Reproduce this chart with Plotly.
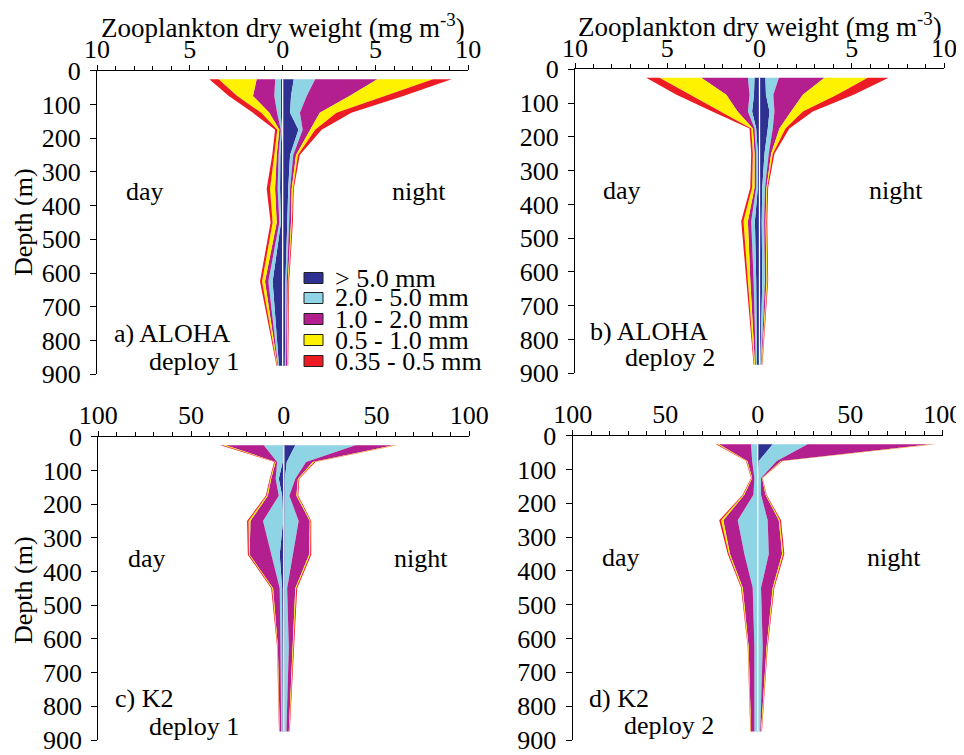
import numpy as np
import plotly.graph_objects as go

# ---------------- data ----------------
depth = [25, 75, 125, 175, 250, 350, 450, 625, 875]          # m (net mid-depths)
size_classes = ["> 5.0 mm", "2.0 - 5.0 mm", "1.0 - 2.0 mm", "0.5 - 1.0 mm", "0.35 - 0.5 mm"]
class_colors = ["#2E3192", "#8ED4E4", "#B31F8E", "#FFF200", "#ED1C24"]
depth_ticks = [0, 100, 200, 300, 400, 500, 600, 700, 800, 900]

# dry weight (mg m-3) per size class (rows, same order as size_classes) and depth (cols)
aloha1_day = [
    [0.10, 0.10, 0.10, 0.05, 0.12, 0.14, 0.09, 0.54, 0.20],
    [0.30, 0.35, 0.20, 0.05, 0.10, 0.13, 0.09, 0.23, 0.05],
    [1.00, 1.15, 0.42, 0.08, 0.10, 0.14, 0.14, 0.18, 0.03],
    [2.05, 0.85, 0.43, 0.11, 0.13, 0.27, 0.22, 0.16, 0.02],
    [0.50, 0.45, 0.45, 0.12, 0.11, 0.18, 0.11, 0.11, 0.03],
]
aloha1_night = [
    [0.60, 0.45, 0.40, 0.85, 0.40, 0.30, 0.25, 0.15, 0.12],
    [1.15, 0.85, 0.53, 0.23, 0.17, 0.10, 0.10, 0.07, 0.06],
    [3.35, 2.30, 1.07, 0.39, 0.15, 0.09, 0.10, 0.06, 0.06],
    [3.00, 1.90, 0.90, 0.28, 0.10, 0.07, 0.05, 0.03, 0.03],
    [1.00, 1.00, 0.80, 0.35, 0.10, 0.04, 0.05, 0.04, 0.03],
]
aloha2_day = [
    [0.27, 0.30, 0.40, 0.18, 0.09, 0.09, 0.25, 0.18, 0.14],
    [0.36, 0.24, 0.23, 0.09, 0.09, 0.09, 0.20, 0.14, 0.06],
    [2.53, 1.26, 0.56, 0.09, 0.09, 0.09, 0.18, 0.18, 0.05],
    [2.26, 1.94, 0.94, 0.09, 0.09, 0.13, 0.24, 0.13, 0.04],
    [0.72, 0.76, 0.43, 0.09, 0.09, 0.10, 0.12, 0.09, 0.03],
]
aloha2_night = [
    [0.32, 0.35, 0.54, 0.45, 0.27, 0.15, 0.12, 0.15, 0.05],
    [0.73, 0.40, 0.27, 0.27, 0.23, 0.15, 0.13, 0.15, 0.04],
    [2.47, 1.60, 0.90, 0.36, 0.13, 0.08, 0.08, 0.08, 0.03],
    [2.35, 1.85, 0.64, 0.33, 0.09, 0.04, 0.04, 0.05, 0.02],
    [1.13, 0.90, 0.54, 0.21, 0.09, 0.05, 0.05, 0.04, 0.02],
]
k2_1_day = [
    [0.6, 0.6, 2.7, 0.9, 0.4, 2.2, 0.9, 0.9, 0.7],
    [10.2, 3.0, 1.7, 1.8, 10.8, 4.6, 1.3, 0.9, 0.7],
    [20.6, 0.8, 2.4, 5.9, 6.8, 11.6, 3.6, 1.4, 0.8],
    [1.4, 0.4, 0.4, 0.6, 1.0, 0.4, 0.5, 0.2, 0.2],
    [1.4, 0.4, 0.4, 0.5, 0.8, 0.6, 0.5, 0.2, 0.2],
]
k2_1_night = [
    [6.2, 1.6, 0.6, 0.6, 0.4, 0.4, 0.2, 0.6, 0.4],
    [32.4, 10.4, 5.6, 2.4, 7.6, 4.6, 1.6, 2.1, 1.0],
    [20.6, 3.6, 1.4, 3.8, 6.0, 8.6, 4.4, 2.1, 1.3],
    [1.2, 0.8, 0.4, 0.6, 0.4, 0.6, 0.5, 0.3, 0.25],
    [0.6, 0.6, 0.4, 0.4, 0.4, 0.6, 0.5, 0.3, 0.25],
]
k2_2_day = [
    [0.2, 0.2, 0.2, 0.4, 0.6, 0.6, 0.4, 0.4, 0.4],
    [3.4, 2.8, 1.6, 1.9, 10.2, 6.6, 2.3, 1.4, 1.4],
    [17.4, 2.6, 1.2, 4.9, 7.8, 7.8, 5.4, 3.1, 1.8],
    [0.8, 0.4, 0.3, 0.5, 1.2, 0.6, 0.5, 0.3, 0.2],
    [0.8, 0.3, 0.3, 0.4, 1.0, 0.6, 0.4, 0.2, 0.2],
]
k2_2_night = [
    [8.1, 0.6, 0.2, 0.2, 0.2, 0.2, 0.2, 0.2, 0.2],
    [18.9, 9.7, 1.6, 1.6, 5.2, 5.8, 1.6, 2.5, 1.2],
    [66.6, 2.3, 0.6, 2.4, 6.0, 7.2, 6.3, 2.1, 0.4],
    [1.4, 0.5, 0.2, 0.3, 0.6, 0.6, 0.5, 0.3, 0.3],
    [1.0, 0.4, 0.1, 0.3, 0.6, 0.6, 0.4, 0.3, 0.2],
]

aloha_ticks = [-10, -5, 0, 5, 10]
aloha_ticktext = ["10", "5", "0", "5", "10"]
k2_ticks = [-100, -50, 0, 50, 100]
k2_ticktext = ["100", "50", "0", "50", "100"]

# page is 964x755; the html body adds an 8 px margin, so the figure is 8 px smaller
OFF = 8
W, H = 964 - OFF, 755 - OFF
FONT = "Liberation Serif"
FS = 26

def px(x):
    return (x - OFF) / W

def py(y):
    return 1 - (y - OFF) / H

panels = [
    dict(xa="x", ya="y", day=aloha1_day, night=aloha1_night, xd=(97, 468.3), yd=(70.7, 374.3),
         tv=aloha_ticks, tt=aloha_ticktext, rng=10, mdt=1),
    dict(xa="x2", ya="y2", day=aloha2_day, night=aloha2_night, xd=(575, 944), yd=(69.3, 373.3),
         tv=aloha_ticks, tt=aloha_ticktext, rng=10, mdt=1),
    dict(xa="x3", ya="y3", day=k2_1_day, night=k2_1_night, xd=(98.3, 469.3), yd=(436.7, 740),
         tv=k2_ticks, tt=k2_ticktext, rng=100, mdt=10),
    dict(xa="x4", ya="y4", day=k2_2_day, night=k2_2_night, xd=(572.7, 942.7), yd=(435.7, 740),
         tv=k2_ticks, tt=k2_ticktext, rng=100, mdt=10),
]

fig = go.Figure()
layout = {}
for i, p in enumerate(panels):
    for data, sign in ((p["day"], -1), (p["night"], 1)):
        cum = np.cumsum(np.array(data, dtype=float), axis=0)
        fig.add_trace(go.Scatter(x=[0] * len(depth), y=depth, mode="lines",
                                 line=dict(width=0), xaxis=p["xa"], yaxis=p["ya"],
                                 showlegend=False, hoverinfo="skip"))
        for k in range(len(size_classes)):
            fig.add_trace(go.Scatter(x=sign * cum[k], y=depth, mode="lines",
                                     line=dict(width=0), fill="tonextx",
                                     fillcolor=class_colors[k], name=size_classes[k],
                                     xaxis=p["xa"], yaxis=p["ya"],
                                     showlegend=False, hoverinfo="skip"))
    # white centre line
    fig.add_trace(go.Scatter(x=[0, 0], y=[depth[0], depth[-1]], mode="lines",
                             line=dict(color="white", width=1.3),
                             xaxis=p["xa"], yaxis=p["ya"], showlegend=False, hoverinfo="skip"))

    sfx = "" if i == 0 else str(i + 1)
    xd = [px(p["xd"][0]), px(p["xd"][1])]
    yd = [py(p["yd"][1]), py(p["yd"][0])]
    layout["xaxis" + sfx] = dict(
        domain=xd, range=[-p["rng"], p["rng"]], side="top", anchor="y" + sfx,
        tickmode="array", tickvals=p["tv"], ticktext=p["tt"],
        ticks="outside", ticklen=5, tickwidth=1.2, tickcolor="black",
        minor=dict(tickmode="linear", tick0=0, dtick=p["mdt"], ticks="outside",
                   ticklen=4, tickwidth=1, tickcolor="black", showgrid=False),
        showline=True, linecolor="black", linewidth=1.3, showgrid=False, zeroline=False,
        tickfont=dict(family=FONT, size=FS, color="black"), ticklabelstandoff=-4,
        ticklabeloverflow="allow", automargin=False, fixedrange=True)
    layout["yaxis" + sfx] = dict(
        domain=yd, range=[900, 0], anchor="x" + sfx,
        tickmode="array", tickvals=depth_ticks,
        ticks="outside", ticklen=6, tickwidth=1.2, tickcolor="black",
        showline=True, linecolor="black", linewidth=1.3, showgrid=False, zeroline=False,
        tickfont=dict(family=FONT, size=FS, color="black"), ticklabelstandoff=4,
        ticklabeloverflow="allow", automargin=False, fixedrange=True)

annotations = []
def txt(s, x, y, xanchor="center", yanchor="middle", angle=0, size=FS):
    annotations.append(dict(text=s, x=px(x), y=py(y), xref="paper", yref="paper",
                            xanchor=xanchor, yanchor=yanchor, showarrow=False, textangle=angle,
                            font=dict(family=FONT, size=size, color="black")))

title = "Zooplankton dry weight (mg m<sup>-3</sup>)"
txt(title, 283, 26, size=27)
txt(title, 760, 25, size=27)
txt("Depth (m)", 23, 222, angle=-90)
txt("Depth (m)", 23, 590, angle=-90)
for (xd_, yd_, xn, yn) in [(145, 192, 419, 192), (622, 190, 896, 190),
                           (147, 558, 421, 558), (621, 557, 894, 557)]:
    txt("day", xd_, yd_)
    txt("night", xn, yn)
txt("a) ALOHA", 112, 333, xanchor="left")
txt("deploy 1", 147, 361, xanchor="left")
txt("b) ALOHA", 588, 331, xanchor="left")
txt("deploy 2", 623, 357, xanchor="left")
txt("c) K2", 113, 698, xanchor="left")
txt("deploy 1", 147, 726, xanchor="left")
txt("d) K2", 587, 698, xanchor="left")
txt("deploy 2", 622, 725, xanchor="left")

# manual legend (panel a, lower right)
shapes = []
leg_rows = [278, 298, 319, 340, 361]
for k, yc in enumerate(leg_rows):
    shapes.append(dict(type="rect", xref="paper", yref="paper",
                       x0=px(304), x1=px(323), y0=py(yc + 5.5), y1=py(yc - 5.5),
                       fillcolor=class_colors[k], line=dict(color="#222222", width=1)))
    txt(size_classes[k], 333, yc, xanchor="left")

fig.update_layout(
    width=W, height=H, margin=dict(l=0, r=0, t=0, b=0, pad=0, autoexpand=False),
    paper_bgcolor="white", plot_bgcolor="white",
    showlegend=False, annotations=annotations, shapes=shapes, **layout)

fig.write_html("out.html")
